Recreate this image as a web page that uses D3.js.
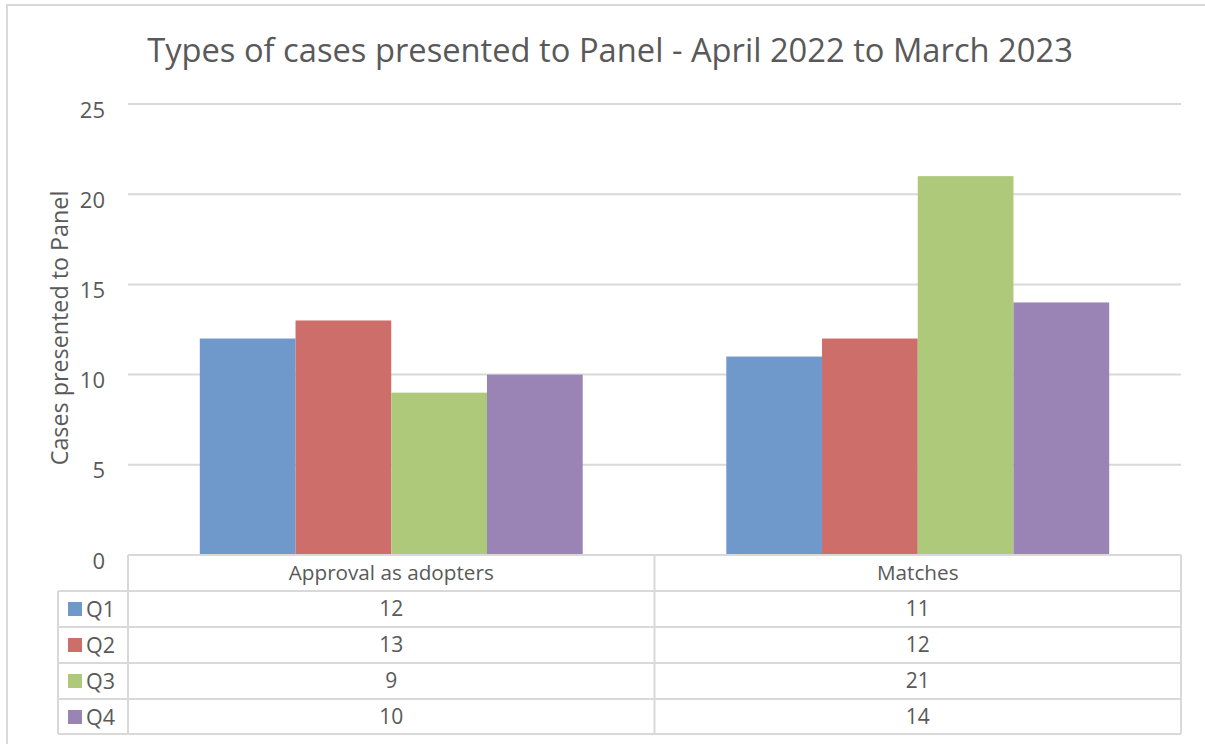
<!DOCTYPE html>
<html>
<head>
<meta charset="utf-8">
<script src="https://cdn.jsdelivr.net/npm/d3@7"></script>
<style>
  body { margin: 0; background: #fff; }
  text { font-family: "Open Sans", "Noto Sans", sans-serif; fill: #595959; }
</style>
</head>
<body>
<div id="chart"></div>
<script>
// data
var categories = ["Approval as adopters", "Matches"];
var seriesNames = ["Q1", "Q2", "Q3", "Q4"];
var q1 = [12, 11];
var q2 = [13, 12];
var q3 = [9, 21];
var q4 = [10, 14];
var yTicks = [0, 5, 10, 15, 20, 25];
var colors = ["#7099cb", "#cd6e6b", "#adc979", "#9a84b5"];

var seriesValues = [q1, q2, q3, q4];

var width = 1205, height = 744;
var plot = {left: 128, right: 1181, top: 104, bottom: 555};
var rowH = 36, gridColor = "#d9d9d9";

var svg = d3.select("#chart").append("svg")
    .attr("width", width)
    .attr("height", height);

// outer chart frame (partly cut off in the reference)
svg.append("path")
    .attr("d", "M7," + height + "V5H" + width)
    .attr("fill", "none")
    .attr("stroke", gridColor)
    .attr("stroke-width", 2);

var y = d3.scaleLinear().domain([0, 25]).range([plot.bottom, plot.top]);
var x0 = d3.scaleBand().domain(categories).range([plot.left, plot.right]);
var x1 = d3.scaleBand().domain(seriesNames).range([0, x0.bandwidth()])
    .paddingInner(0).paddingOuter(0.75);

// gridlines
svg.append("g").selectAll("line")
    .data(yTicks.filter(function(d) { return d > 0; }))
    .enter().append("line")
    .attr("x1", plot.left).attr("x2", plot.right)
    .attr("y1", function(d) { return y(d); })
    .attr("y2", function(d) { return y(d); })
    .attr("stroke", gridColor)
    .attr("stroke-width", 2);

// y axis labels
var yAxis = d3.axisLeft(y).tickValues(yTicks).tickSize(0).tickPadding(23);
var ya = svg.append("g")
    .attr("transform", "translate(" + plot.left + ",6)")
    .call(yAxis);
ya.select(".domain").remove();
ya.selectAll("text").style("font-size", "22px").attr("fill", "#595959");

// bars
var groups = svg.append("g").selectAll("g")
    .data(categories)
    .enter().append("g")
    .attr("transform", function(d) { return "translate(" + x0(d) + ",0)"; });

groups.selectAll("rect")
    .data(function(d, ci) {
      return seriesNames.map(function(s, si) { return {s: s, si: si, v: seriesValues[si][ci]}; });
    })
    .enter().append("rect")
    .attr("x", function(d) { return x1(d.s); })
    .attr("width", x1.bandwidth())
    .attr("y", function(d) { return y(d.v); })
    .attr("height", function(d) { return y(0) - y(d.v); })
    .attr("fill", function(d) { return colors[d.si]; });

// title
svg.append("text")
    .attr("x", 610)
    .attr("y", 62)
    .attr("text-anchor", "middle")
    .style("font-size", "32.7px")
    .text("Types of cases presented to Panel - April 2022 to March 2023");

// y axis title
svg.append("text")
    .attr("transform", "translate(68,328) rotate(-90)")
    .attr("text-anchor", "middle")
    .style("font-size", "23.3px")
    .text("Cases presented to Panel");

// data table
var legendLeft = 58;
var tbl = svg.append("g");
var tableBottom = plot.bottom + rowH * (seriesNames.length + 1) - 1;

function hline(x1v, x2v, yv) {
  tbl.append("line").attr("x1", x1v).attr("x2", x2v).attr("y1", yv).attr("y2", yv)
    .attr("stroke", gridColor).attr("stroke-width", 2);
}
function vline(xv, y1v, y2v) {
  tbl.append("line").attr("x1", xv).attr("x2", xv).attr("y1", y1v).attr("y2", y2v)
    .attr("stroke", gridColor).attr("stroke-width", 2);
}

hline(plot.left, plot.right, plot.bottom);
seriesNames.forEach(function(s, i) {
  hline(legendLeft, plot.right, plot.bottom + rowH * (i + 1));
});
hline(legendLeft, plot.right, tableBottom);
vline(legendLeft, plot.bottom + rowH, tableBottom);
vline(plot.left, plot.bottom, tableBottom);
categories.forEach(function(c) {
  vline(x0(c) + x0.bandwidth(), plot.bottom, tableBottom);
});

// header row
tbl.selectAll("text.cat")
    .data(categories)
    .enter().append("text")
    .attr("class", "cat")
    .attr("x", function(d) { return x0(d) + x0.bandwidth() / 2; })
    .attr("y", plot.bottom + rowH / 2)
    .attr("dy", "0.35em")
    .attr("text-anchor", "middle")
    .style("font-size", "20.7px")
    .text(function(d) { return d; });

// series rows
var rows = tbl.selectAll("g.row")
    .data(seriesNames)
    .enter().append("g")
    .attr("class", "row")
    .attr("transform", function(d, i) { return "translate(0," + (plot.bottom + rowH * (i + 1)) + ")"; });

rows.append("rect")
    .attr("x", 68).attr("y", rowH / 2 - 7)
    .attr("width", 14).attr("height", 14)
    .attr("fill", function(d, i) { return colors[i]; });

rows.append("text")
    .attr("x", 86).attr("y", rowH / 2)
    .attr("dy", "0.35em")
    .style("font-size", "21.5px")
    .text(function(d) { return d; });

rows.selectAll("text.val")
    .data(function(d, i) { return seriesValues[i]; })
    .enter().append("text")
    .attr("class", "val")
    .attr("x", function(d, ci) { return x0(categories[ci]) + x0.bandwidth() / 2; })
    .attr("y", rowH / 2)
    .attr("dy", "0.35em")
    .attr("text-anchor", "middle")
    .style("font-size", "21px")
    .text(function(d) { return d; });
</script>
</body>
</html>
